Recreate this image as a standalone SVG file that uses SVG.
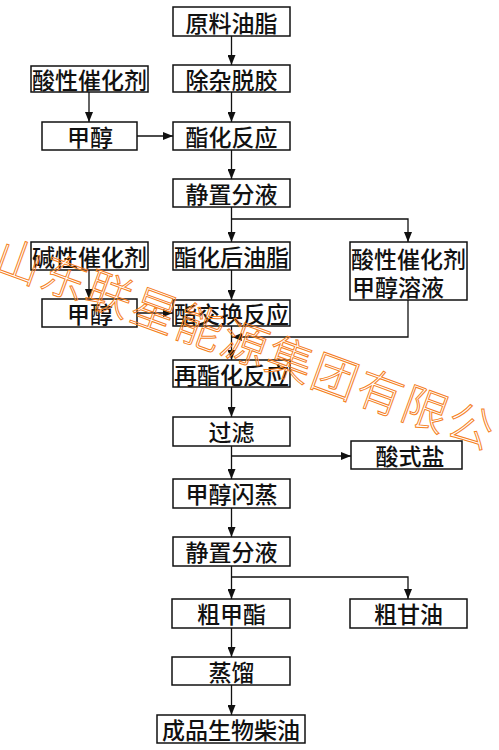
<svg xmlns="http://www.w3.org/2000/svg" width="499" height="750" viewBox="0 0 499 750">
<defs>
<marker id="ah" markerUnits="userSpaceOnUse" markerWidth="10" markerHeight="8" refX="10" refY="4" orient="auto">
<path d="M0,0 L10,4 L0,8 z" fill="#111"/>
</marker>
<style>
.b{fill:#fff;stroke:#111;stroke-width:1.5}
.t{font-family:"Noto Sans CJK SC","Noto Sans CJK JP",sans-serif;font-size:23px;font-weight:500;fill:#111;text-anchor:middle;dominant-baseline:central}
.l{fill:none;stroke:#111;stroke-width:1.3}
.a{marker-end:url(#ah)}
.wm{font-family:"Noto Sans CJK SC",sans-serif;font-size:46px;font-weight:300;fill:none;stroke:#f5821f;stroke-width:1;letter-spacing:2px;text-anchor:middle;dominant-baseline:central}
</style>
</defs>
<rect width="499" height="750" fill="#fff"/>
<g id="connectors">
<path class="l a" d="M231.5,36 V65"/>
<path class="l a" d="M231.5,92 V122"/>
<path class="l a" d="M89,92 V122"/>
<path class="l a" d="M137,136 H173"/>
<path class="l a" d="M231.5,150 V179"/>
<path class="l a" d="M231.5,207 V242"/>
<path class="l a" d="M231.5,219 H408 V242"/>
<path class="l a" d="M89,270 V299"/>
<path class="l a" d="M137,313 H173"/>
<path class="l a" d="M231.5,270 V300"/>
<path class="l a" d="M231.5,326 V360"/>
<path class="l a" d="M408,300 V337 H232"/>
<path class="l a" d="M231.5,387 V417"/>
<path class="l a" d="M231.5,446 V479"/>
<path class="l a" d="M231.5,456 H351"/>
<path class="l a" d="M231.5,508 V537"/>
<path class="l a" d="M231.5,566 V599"/>
<path class="l a" d="M231.5,577 H408 V599"/>
<path class="l a" d="M231.5,628 V657"/>
<path class="l a" d="M231.5,685 V715"/>
</g>
<g id="n1"><rect class="b" x="173" y="7" width="117" height="29"/><text class="t" x="231.5" y="22">原料油脂</text></g>
<g id="n2"><rect class="b" x="173" y="65" width="117" height="27"/><text class="t" x="231.5" y="79">除杂脱胶</text></g>
<g id="acid1"><rect class="b" x="31" y="66" width="117" height="26"/><text class="t" x="89.5" y="79">酸性催化剂</text></g>
<g id="meoh1"><rect class="b" x="42" y="122" width="95" height="28"/><text class="t" x="90" y="136">甲醇</text></g>
<g id="n3"><rect class="b" x="173" y="122" width="117" height="28"/><text class="t" x="231.5" y="136">酯化反应</text></g>
<g id="n4"><rect class="b" x="173" y="179" width="117" height="28"/><text class="t" x="231.5" y="193">静置分液</text></g>
<g id="base"><rect class="b" x="31" y="242" width="117" height="28"/><text class="t" x="89.5" y="256">碱性催化剂</text></g>
<g id="n5"><rect class="b" x="173" y="242" width="117" height="28"/><text class="t" x="231.5" y="256">酯化后油脂</text></g>
<g id="acidsol"><rect class="b" x="350" y="242" width="117" height="58"/><text class="t" x="408.5" y="258">酸性催化剂</text><text class="t" x="398" y="286">甲醇溶液</text></g>
<g id="meoh2"><rect class="b" x="42" y="299" width="95" height="28"/><text class="t" x="90" y="313">甲醇</text></g>
<g id="n6"><rect class="b" x="173" y="300" width="117" height="26"/><text class="t" x="231.5" y="313">酯交换反应</text></g>
<g id="n7"><rect class="b" x="173" y="360" width="117" height="27"/><text class="t" x="231.5" y="374">再酯化反应</text></g>
<g id="n8"><rect class="b" x="173" y="417" width="117" height="29"/><text class="t" x="231.5" y="431">过滤</text></g>
<g id="salt"><rect class="b" x="351" y="441" width="111" height="28"/><text class="t" x="410" y="455">酸式盐</text></g>
<g id="n9"><rect class="b" x="173" y="479" width="117" height="29"/><text class="t" x="231.5" y="493">甲醇闪蒸</text></g>
<g id="n10"><rect class="b" x="173" y="537" width="117" height="29"/><text class="t" x="231.5" y="551">静置分液</text></g>
<g id="n11"><rect class="b" x="172" y="599" width="118" height="29"/><text class="t" x="231.5" y="613">粗甲酯</text></g>
<g id="glyc"><rect class="b" x="350" y="599" width="117" height="29"/><text class="t" x="408.5" y="613">粗甘油</text></g>
<g id="n12"><rect class="b" x="172" y="657" width="118" height="28"/><text class="t" x="231.5" y="671">蒸馏</text></g>
<g id="n13"><rect class="b" x="157" y="715" width="148" height="28"/><text class="t" x="231" y="729">成品生物柴油</text></g>
<g id="watermark"><text class="wm" transform="translate(247,341) rotate(20)" x="0" y="0">山东联星能源集团有限公</text></g>
</svg>
